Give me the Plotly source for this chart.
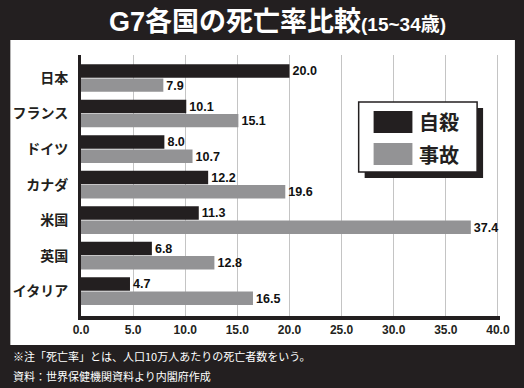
import plotly.graph_objects as go

categories = ["日本", "フランス", "ドイツ", "カナダ", "米国", "英国", "イタリア"]
suicide = [20.0, 10.1, 8.0, 12.2, 11.3, 6.8, 4.7]
accident = [7.9, 15.1, 10.7, 19.6, 37.4, 12.8, 16.5]
series_names = ["自殺", "事故"]
tick_vals = [0, 5, 10, 15, 20, 25, 30, 35, 40]
tick_text = ["0.0", "5.0", "10.0", "15.0", "20.0", "25.0", "30.0", "35.0", "40.0"]
title_main = "G7各国の死亡率比較"
title_sub = "(15~34歳)"
note1 = "※注「死亡率」とは、人口10万人あたりの死亡者数をいう。"
note2 = "資料：世界保健機関資料より内閣府作成"

BG = "#231f20"
BLACK = "#231f20"
GRAY = "#939395"
W, H = 524, 388
L, R, T, B = 79, 24, 55, 72
PW, PH = W - L - R, H - T - B

def px(x):
    return (x - L) / PW

def py(y):
    return (H - B - y) / PH

NUM_FONT = "Liberation Sans, Arial, sans-serif"
JP_FONT = "Noto Sans CJK JP, sans-serif"

fig = go.Figure()
fig.add_trace(go.Bar(
    y=categories, x=suicide, orientation="h", name=series_names[0],
    marker=dict(color=BLACK, line=dict(width=0)),
    text=suicide, texttemplate="%{x:.1f}", textposition="outside",
    textfont=dict(family=NUM_FONT, size=16, color="#111", weight="bold"),
    cliponaxis=False,
))
fig.add_trace(go.Bar(
    y=categories, x=accident, orientation="h", name=series_names[1],
    marker=dict(color=GRAY, line=dict(width=0)),
    text=accident, texttemplate="%{x:.1f}", textposition="outside",
    textfont=dict(family=NUM_FONT, size=16, color="#111", weight="bold"),
    cliponaxis=False,
))

shapes = [
    # white panel
    dict(type="rect", xref="paper", yref="paper", layer="below",
         x0=px(8), x1=px(515), y0=py(345), y1=py(40),
         fillcolor="white", line=dict(width=0)),
    # legend shadow
    dict(type="rect", xref="paper", yref="paper",
         x0=px(364), x1=px(483), y0=py(178), y1=py(108),
         fillcolor=BLACK, line=dict(width=0)),
    # legend box
    dict(type="rect", xref="paper", yref="paper",
         x0=px(358), x1=px(477), y0=py(172), y1=py(102),
         fillcolor="white", line=dict(color=BLACK, width=1.5)),
    # swatches
    dict(type="rect", xref="paper", yref="paper",
         x0=px(373), x1=px(412), y0=py(133), y1=py(111),
         fillcolor=BLACK, line=dict(width=0)),
    dict(type="rect", xref="paper", yref="paper",
         x0=px(373), x1=px(412), y0=py(165), y1=py(143),
         fillcolor=GRAY, line=dict(width=0)),
]

annotations = [
    dict(xref="paper", yref="paper", x=px(276), y=py(22), xanchor="center", yanchor="middle",
         text=f"<b>{title_main}</b><span style='font-size:19px'><b>{title_sub}</b></span>",
         showarrow=False, font=dict(family="Liberation Sans, " + JP_FONT, size=27, color="white")),
    dict(xref="paper", yref="paper", x=px(417), y=py(122), xanchor="left", yanchor="middle",
         text=f"<b>{series_names[0]}</b>", showarrow=False,
         font=dict(family=JP_FONT, size=20, color=BLACK)),
    dict(xref="paper", yref="paper", x=px(417), y=py(154), xanchor="left", yanchor="middle",
         text=f"<b>{series_names[1]}</b>", showarrow=False,
         font=dict(family=JP_FONT, size=20, color=BLACK)),
    dict(xref="paper", yref="paper", x=px(9), y=py(356), xanchor="left", yanchor="middle",
         text=note1, showarrow=False, font=dict(family=JP_FONT, size=11, color="white")),
    dict(xref="paper", yref="paper", x=px(9), y=py(376), xanchor="left", yanchor="middle",
         text=note2, showarrow=False, font=dict(family=JP_FONT, size=11, color="white")),
]

fig.update_layout(
    width=W, height=H,
    margin=dict(l=L, r=R, t=T, b=B, pad=0),
    paper_bgcolor=BG, plot_bgcolor="white",
    barmode="group", bargap=0.2, bargroupgap=0.06,
    showlegend=False,
    shapes=shapes, annotations=annotations,
    xaxis=dict(range=[0, 40.2], tickvals=tick_vals, ticktext=tick_text,
               showgrid=True, gridcolor="#c4c4c4", gridwidth=1,
               showline=True, linecolor=BLACK, linewidth=4,
               zeroline=False, ticks="", ticklen=0,
               tickfont=dict(family=NUM_FONT, size=12, color=BLACK, weight="bold")),
    yaxis=dict(categoryorder="array", categoryarray=categories,
               range=[6.7, -0.65], showgrid=False,
               showline=True, linecolor=BLACK, linewidth=3,
               zeroline=False, ticks="", ticklen=0, ticklabelstandoff=7,
               tickfont=dict(family=JP_FONT, size=14, color=BLACK, weight="bold")),
    uniformtext=dict(mode=False),
)

fig.write_html("out.html", config={"displayModeBar": False},
               post_script="document.body.style.margin='0';document.body.style.background='#231f20';")
